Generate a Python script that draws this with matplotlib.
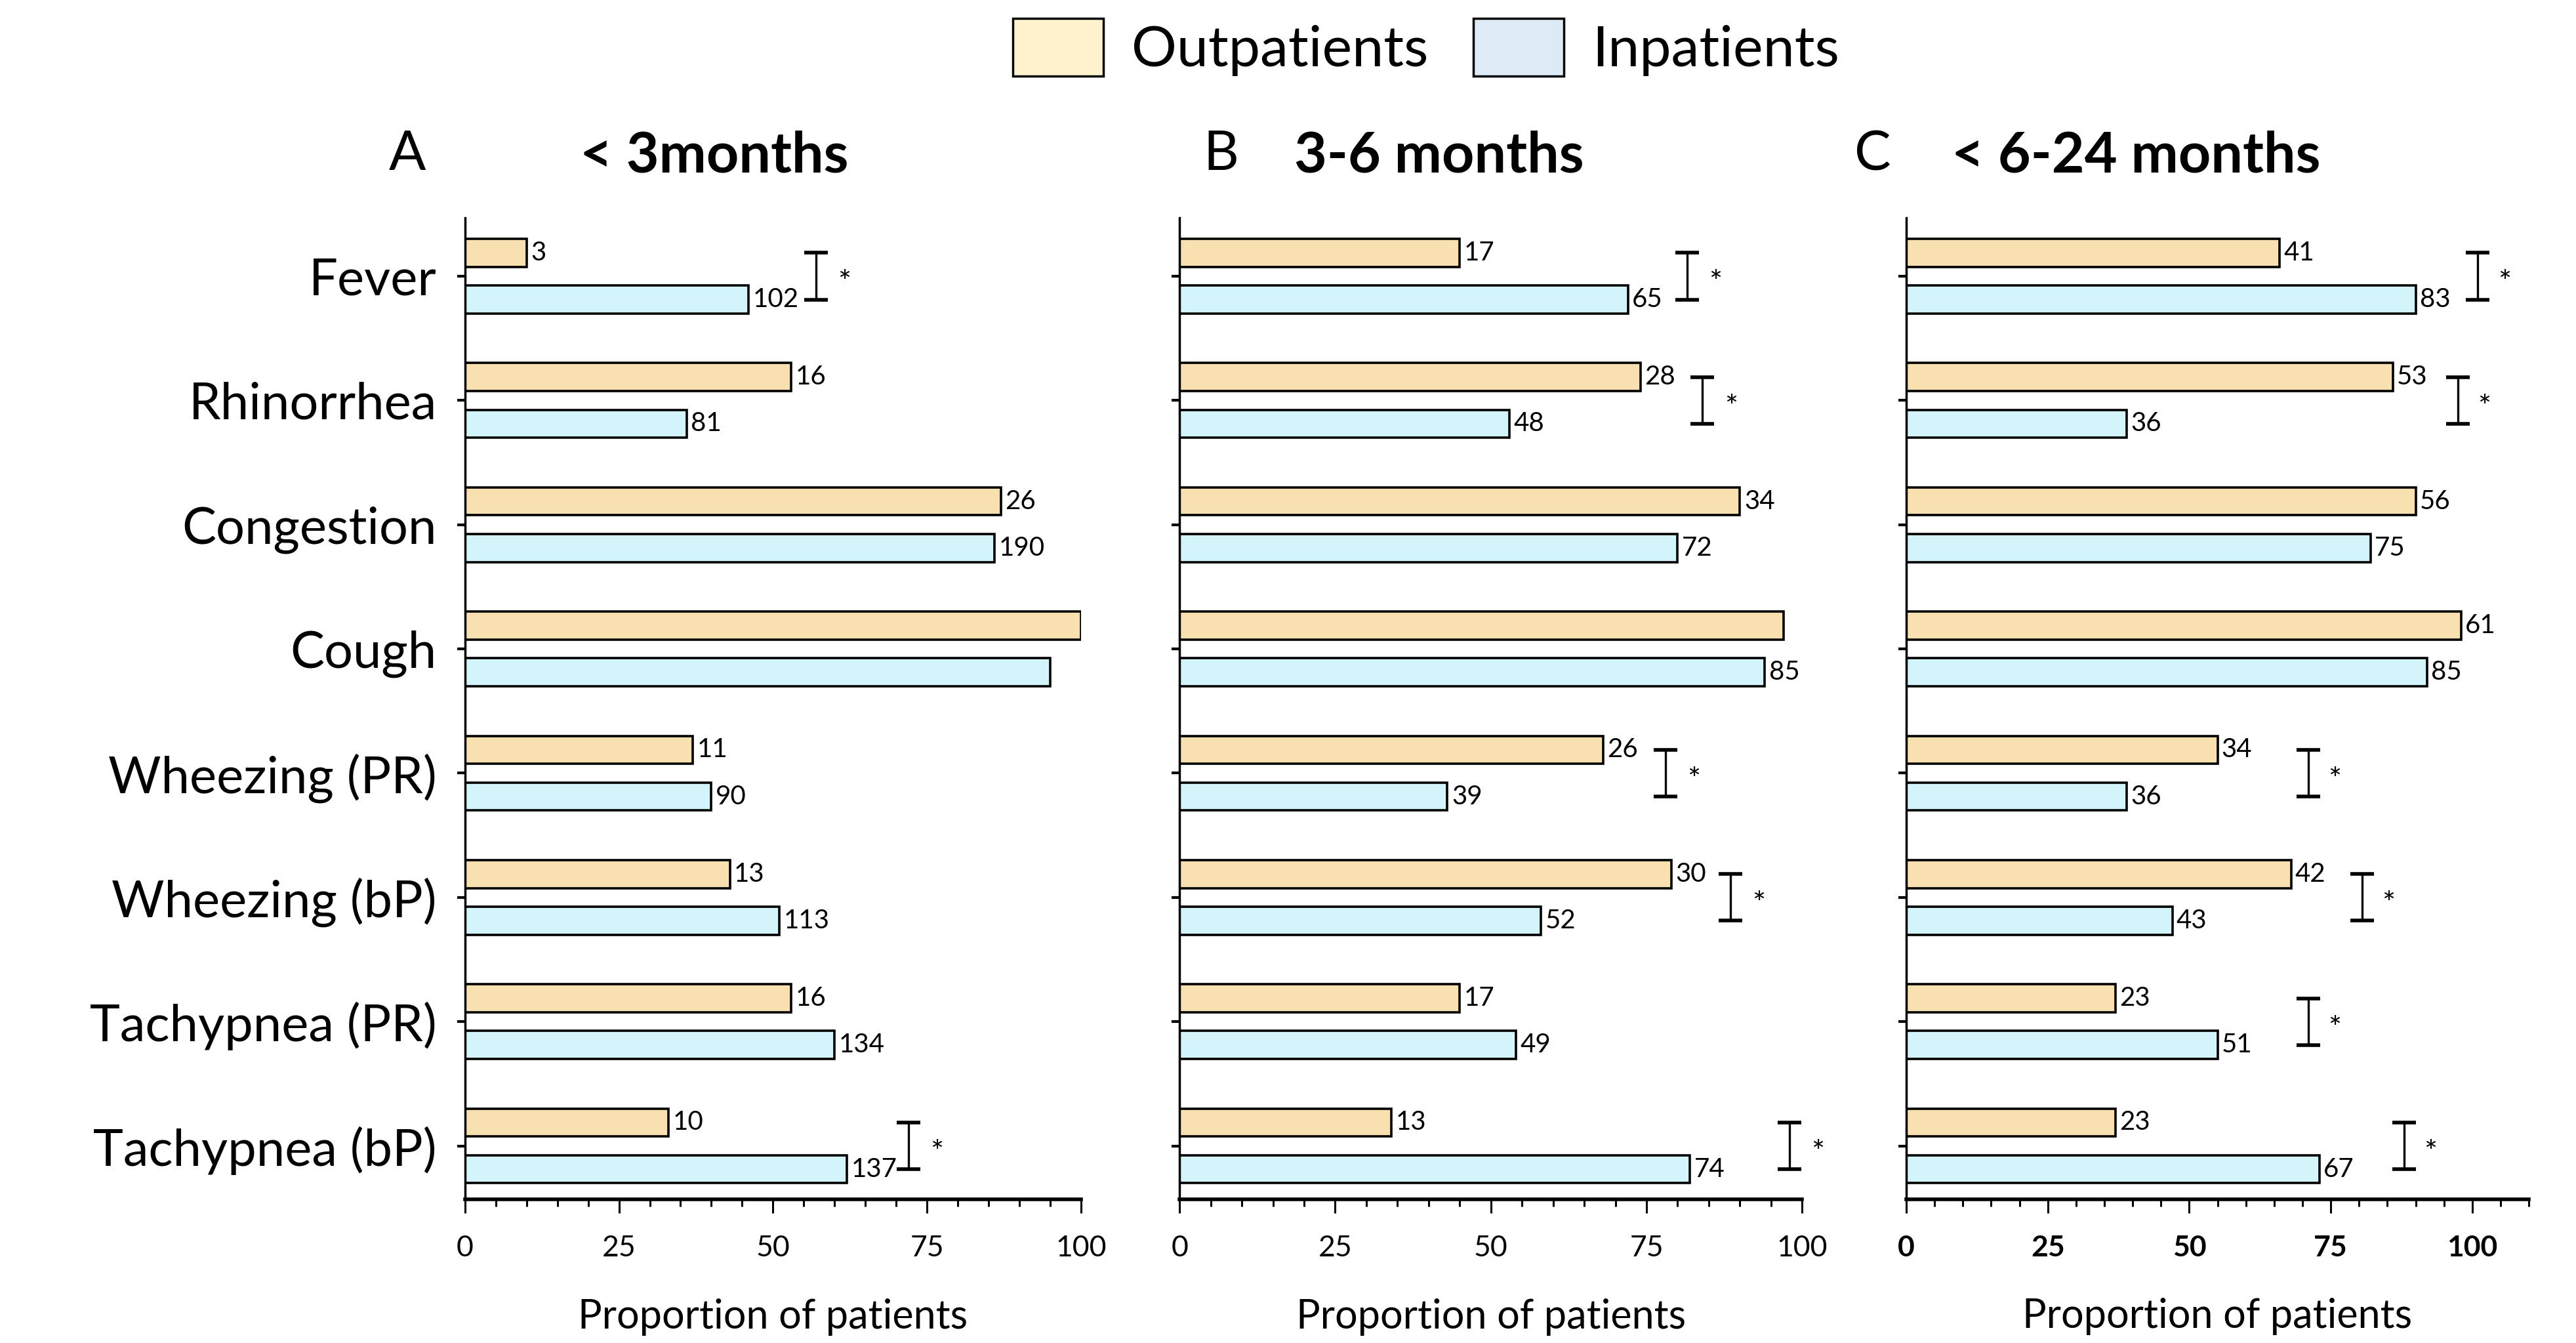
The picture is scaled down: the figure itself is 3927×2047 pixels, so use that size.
import matplotlib
matplotlib.use('Agg')
import matplotlib.pyplot as plt
from matplotlib.patches import Patch
import numpy as np

symptoms = ['Fever', 'Rhinorrhea', 'Congestion', 'Cough', 'Wheezing (PR)',
            'Wheezing (bP)', 'Tachypnea (PR)', 'Tachypnea (bP)']

# < 3 months
out_lt3 = [10, 53, 87, 100, 37, 43, 53, 33]
in_lt3 = [46, 36, 86, 95, 40, 51, 60, 62]
out_n_lt3 = ['3', '16', '26', '', '11', '13', '16', '10']
in_n_lt3 = ['102', '81', '190', '', '90', '113', '134', '137']
sig_rows_lt3 = [0, 7]
sig_x_lt3 = [57, 72]

# 3-6 months
out_3to6 = [45, 74, 90, 97, 68, 79, 45, 34]
in_3to6 = [72, 53, 80, 94, 43, 58, 54, 82]
out_n_3to6 = ['17', '28', '34', '', '26', '30', '17', '13']
in_n_3to6 = ['65', '48', '72', '85', '39', '52', '49', '74']
sig_rows_3to6 = [0, 1, 4, 5, 7]
sig_x_3to6 = [81.5, 84, 78, 88.5, 98]

# 6-24 months
out_6to24 = [66, 86, 90, 98, 55, 68, 37, 37]
in_6to24 = [90, 39, 82, 92, 39, 47, 55, 73]
out_n_6to24 = ['41', '53', '56', '61', '34', '42', '23', '23']
in_n_6to24 = ['83', '36', '75', '85', '36', '43', '51', '67']
sig_rows_6to24 = [0, 1, 4, 5, 6, 7]
sig_x_6to24 = [101, 97.5, 71, 80.5, 71, 88]

panel_letters = ['A', 'B', 'C']
panel_titles = ['< 3months', '3-6 months', '< 6-24 months']

out_color = '#F9E0B0'
in_color = '#D4F4FC'
plt.rcParams['font.family'] = ['Lato', 'DejaVu Sans']

fig = plt.figure(figsize=(39.27, 20.47), dpi=100)

panels = [
    (out_lt3, in_lt3, out_n_lt3, in_n_lt3, sig_rows_lt3, sig_x_lt3, 100),
    (out_3to6, in_3to6, out_n_3to6, in_n_3to6, sig_rows_3to6, sig_x_3to6, 100),
    (out_6to24, in_6to24, out_n_6to24, in_n_6to24, sig_rows_6to24, sig_x_6to24, 110),
]
lefts = [0.1805, 0.4579, 0.7400]
widths = [0.2391, 0.2417, 0.2417]
letter_x = [621, 1861, 2855]
title_x = [1089, 2194, 3256]

y = np.arange(len(symptoms))
off = 0.188
h = 0.225

for i, (o, n, on, nn, srows, sx, xmax) in enumerate(panels):
    ax = fig.add_axes([lefts[i], 0.107, widths[i], 0.7308])
    ax.barh(y - off, o, height=h, color=out_color, edgecolor='black', linewidth=2.6)
    ax.barh(y + off, n, height=h, color=in_color, edgecolor='black', linewidth=2.6)
    for k in range(len(symptoms)):
        if on[k]:
            ax.text(o[k] + 0.7, y[k] - off, on[k], va='center', ha='left', fontsize=29)
        if nn[k]:
            ax.text(n[k] + 0.7, y[k] + off, nn[k], va='center', ha='left', fontsize=29)
    for r, x in zip(srows, sx):
        ax.errorbar(x, y[r], yerr=off, fmt='none', ecolor='black',
                    elinewidth=2.4, capsize=13, capthick=4)
        ax.text(x + 3.5, y[r] + 0.06, '*', ha='left', va='center', fontsize=34)

    ax.set_xlim(0, xmax)
    ax.set_ylim(len(symptoms) - 0.57, -0.47)
    ax.set_xticks([0, 25, 50, 75, 100])
    ax.set_xticks(np.arange(0, xmax + 1, 5), minor=True)
    ax.set_yticks(y)
    if i == 0:
        ax.set_yticklabels(symptoms, fontsize=56)
    else:
        ax.set_yticklabels([])
    for s in ['top', 'right']:
        ax.spines[s].set_visible(False)
    ax.spines['left'].set_linewidth(2.5)
    ax.spines['bottom'].set_linewidth(4)
    ax.tick_params(axis='x', which='major', length=15, width=2.2, pad=24)
    ax.tick_params(axis='x', which='minor', length=8, width=2.2)
    ax.tick_params(axis='y', length=9, width=3, pad=22)
    for lab in ax.get_xticklabels():
        lab.set_fontsize(32)
        if i == 2:
            lab.set_fontweight('bold')
    ax.set_xlabel('Proportion of patients', fontsize=44, labelpad=40)

    fig.text(letter_x[i] / 3927, 1 - 236 / 2047, panel_letters[i], fontsize=60,
             ha='center', va='center')
    fig.text(title_x[i] / 3927, 1 - 238 / 2047, panel_titles[i], fontsize=62,
             fontweight='bold', ha='center', va='center')

handles = [Patch(facecolor='#FFF2CC', edgecolor='black', linewidth=2.5),
           Patch(facecolor='#DEEBF7', edgecolor='black', linewidth=2.5)]
fig.legend(handles, ['Outpatients', 'Inpatients'], loc='center',
           bbox_to_anchor=(0.5536, 0.965), ncol=2, frameon=False, fontsize=62,
           handlelength=1.6, handleheight=1.2, handletextpad=0.5, columnspacing=0.8)

fig.savefig('out.png', dpi=100)
